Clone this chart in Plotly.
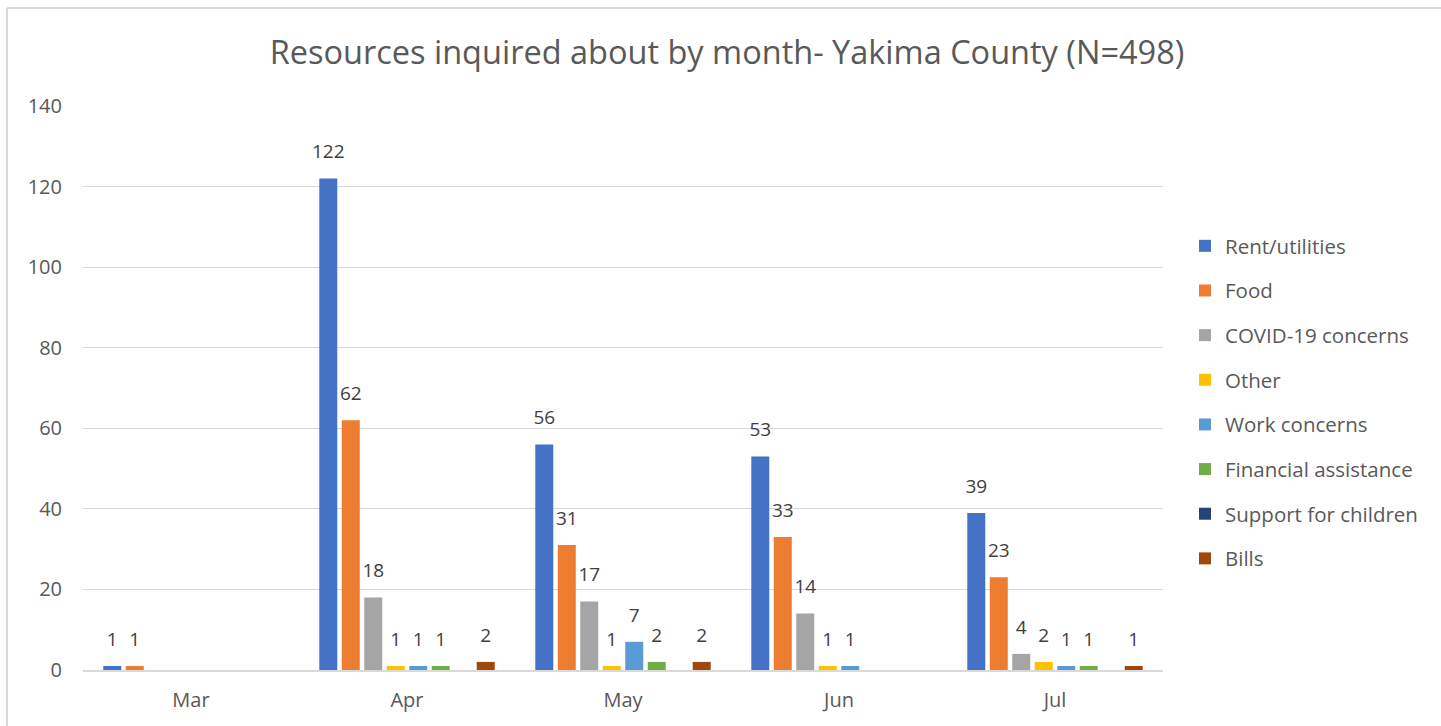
import plotly.graph_objects as go

months = ["Mar", "Apr", "May", "Jun", "Jul"]
series_names = ["Rent/utilities", "Food", "COVID-19 concerns", "Other",
                "Work concerns", "Financial assistance", "Support for children", "Bills"]
rent = [1, 122, 56, 53, 39]
food = [1, 62, 31, 33, 23]
covid = [0, 18, 17, 14, 4]
other = [0, 1, 1, 1, 2]
work = [0, 1, 7, 1, 1]
financial = [0, 1, 2, 0, 1]
support = [0, 0, 0, 0, 0]
bills = [0, 2, 2, 0, 1]
colors = ["#4472C4", "#ED7D31", "#A5A5A5", "#FFC000", "#5B9BD5", "#70AD47", "#264478", "#9E480E"]
y_ticks = [0, 20, 40, 60, 80, 100, 120, 140]

all_series = [rent, food, covid, other, work, financial, support, bills]
FONT = "Open Sans"
W, H = 1441, 726
L, R, T, B = 83, 278, 106, 56
GAP = 0.167

fig = go.Figure()
for i, (name, vals, col) in enumerate(zip(series_names, all_series, colors)):
    fig.add_trace(go.Bar(
        x=months, y=[v if v else None for v in vals], name=name,
        marker=dict(color=col, line=dict(width=0)),
        offsetgroup=str(i), legendgroup=str(i),
        hoverinfo="x+y+name",
    ))
for i, (name, vals) in enumerate(zip(series_names, all_series)):
    fig.add_trace(go.Scatter(
        x=months, y=vals, mode="markers+text", orientation="v",
        text=[str(v) if v else "" for v in vals], textposition="top center",
        marker=dict(size=23, opacity=0),
        textfont=dict(family=FONT, size=19, color="#404040"),
        offsetgroup=str(i), legendgroup=str(i),
        showlegend=False, hoverinfo="skip", cliponaxis=False,
    ))

pw = W - L - R
ph = H - T - B
def px_x(p):
    return (p - L) / pw
def px_y(p):
    return (H - B - p) / ph

fig.update_layout(
    width=W, height=H,
    margin=dict(l=L, r=R, t=T, b=B),
    paper_bgcolor="white", plot_bgcolor="white",
    barmode="group", bargap=GAP, bargroupgap=0.2,
    scattermode="group", scattergap=GAP,
    title=dict(text="Resources inquired about by month- Yakima County (N=498)",
               x=px_x(727), xref="paper", xanchor="center",
               y=1 - 53 / H, yanchor="middle",
               font=dict(family=FONT, size=32.5, color="#595959")),
    legend=dict(x=px_x(1185), xanchor="left", y=px_y(226), yanchor="top",
                font=dict(family=FONT, size=20.5, color="#595959"),
                tracegroupgap=15, itemwidth=30, traceorder="grouped",
                bgcolor="rgba(0,0,0,0)"),
    xaxis=dict(showgrid=False, showline=True, linecolor="#D9D9D9", linewidth=1.5,
               tickfont=dict(family=FONT, size=20, color="#595959"),
               ticks="", ticklabelstandoff=11),
    yaxis=dict(range=[0, 140], tickvals=y_ticks, showgrid=True, gridcolor="#D9D9D9",
               gridwidth=1, zeroline=False, showline=False,
               tickfont=dict(family=FONT, size=20, color="#595959"),
               ticks="", ticklabelstandoff=20),
    showlegend=True,
    shapes=[
        dict(type="line", xref="paper", yref="paper", x0=px_x(7), x1=px_x(1441),
             y0=px_y(8), y1=px_y(8), line=dict(color="#D9D9D9", width=2)),
        dict(type="line", xref="paper", yref="paper", x0=px_x(7), x1=px_x(7),
             y0=px_y(8), y1=px_y(726), line=dict(color="#D9D9D9", width=2)),
    ],
)
fig.write_html("out.html", config={"displayModeBar": False},
               post_script="document.body.style.margin='0';")
